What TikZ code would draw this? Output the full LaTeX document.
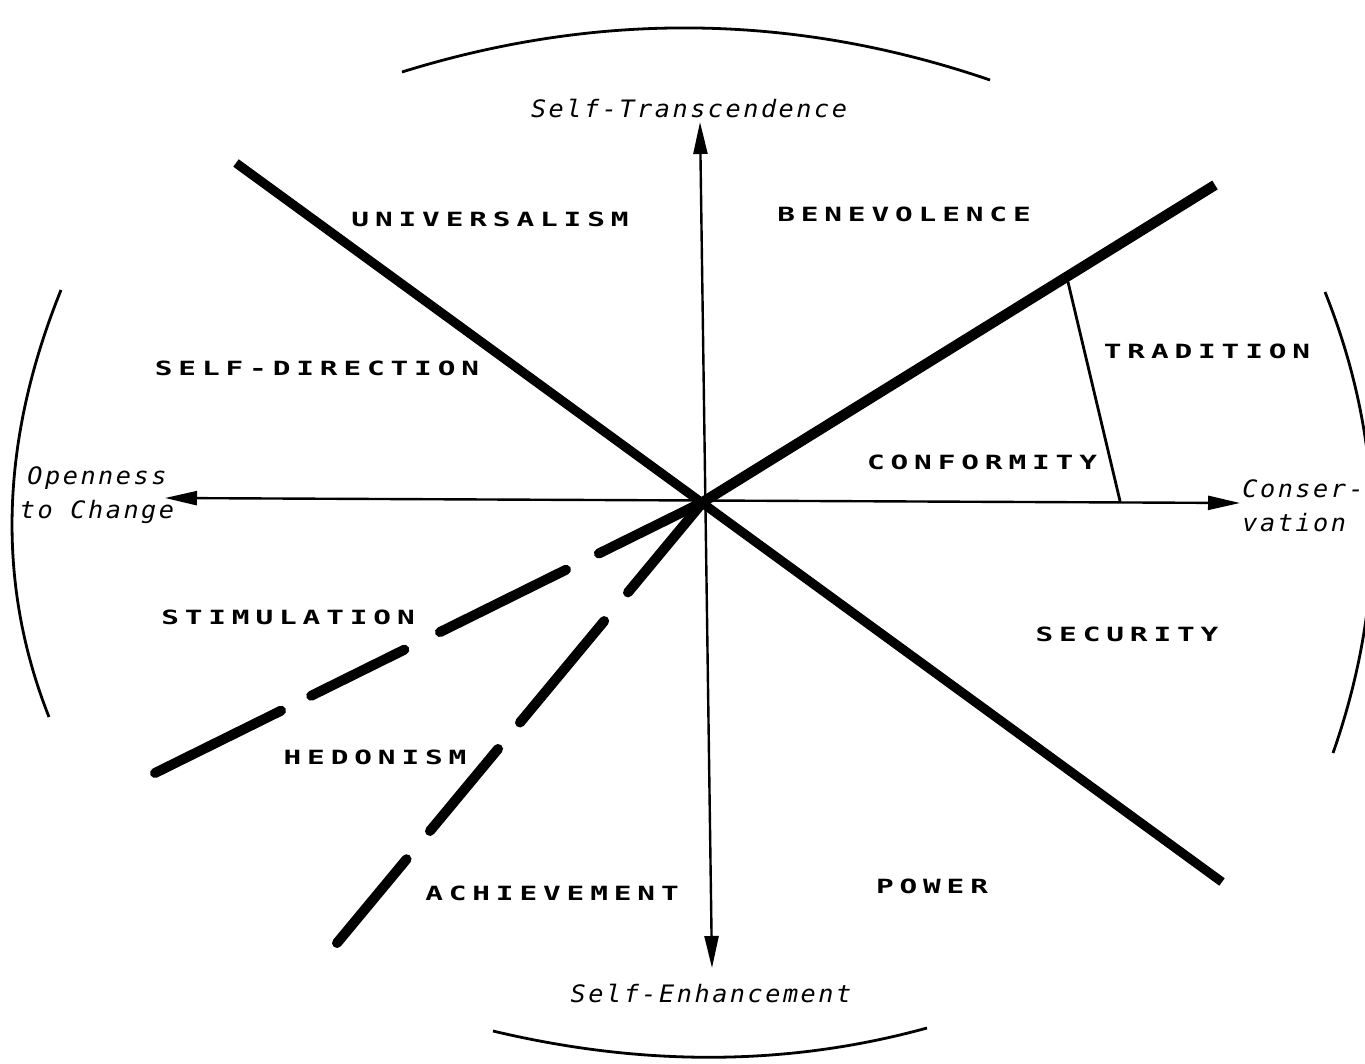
\documentclass[tikz,border=0pt]{standalone}
\usepackage{fontspec}
\usetikzlibrary{arrows.meta,calc,positioning}
\newfontfamily\valuefont[LetterSpace=20]{DejaVu Sans Mono}
\newfontfamily\dimfont[LetterSpace=10]{DejaVu Sans Mono}
\newcommand{\val}[1]{\scalebox{1.5}[1]{#1}}
\newcommand{\axlab}[1]{\scalebox{1.05}[1]{#1}}
\tikzset{
  value/.style={font=\fontsize{9.8}{10}\selectfont\valuefont\bfseries,inner sep=0pt},
  dimlab/.style={font=\fontsize{12}{17}\selectfont\dimfont\itshape,inner sep=0pt},
  axis/.style={line width=1.2pt,{Triangle[length=16pt,width=7pt]}-{Triangle[length=16pt,width=7pt]}},
  divider/.style={line width=4.6pt},
  dashdiv/.style={line width=5pt,line cap=round},
  bracket/.style={line width=1.4pt},
}

\begin{document}
\begin{tikzpicture}[x=0.5pt,y=-0.5pt]
  \useasboundingbox (0,0) rectangle (1365,1064);
  \clip (0,0) rectangle (1365,1064);
  \coordinate (c) at (703,502);
  % axis ends
  \coordinate (st) at (700,122);
  \coordinate (se) at (712,968);
  \coordinate (oc) at (165,498);
  \coordinate (cv) at (1240,503);
  % divider ends
  \coordinate (nw) at (236,163);
  \coordinate (sw) at (1222,882);
  \coordinate (ne) at (1215,185);
  \coordinate (hA) at (155,773);
  \coordinate (hB) at (337,943);
  \coordinate (trT) at (1068,282);
  \coordinate (trB) at (1120,501);

  % outer brackets
  \draw[bracket] (402,72) .. controls (598,11) and (794,13) .. (990,80);
  \draw[bracket] (493,1031) .. controls (644,1067) and (789,1066) .. (927,1028);
  \draw[bracket] (61,290) .. controls (0,441) and (-4,583) .. (49,717);
  \draw[bracket] (1325,292) .. controls (1385,442) and (1388,596) .. (1333,753);

  \draw[divider] (nw) -- (sw);
  \draw[divider,line width=5.2pt] (c) -- (ne);
  \foreach \a/\b in {0/0.19,0.25/0.48,0.545/0.715,0.77/1}
    \draw[dashdiv] ($(c)!\a!(hA)$) -- ($(c)!\b!(hA)$);
  \foreach \a/\b in {0/0.205,0.27/0.5,0.56/0.746,0.81/1}
    \draw[dashdiv] ($(c)!\a!(hB)$) -- ($(c)!\b!(hB)$);
  \draw[axis] (st) -- (se);
  \draw[axis] (oc) -- (cv);
  \draw[bracket] (trT) -- (trB);

  \node[dimlab] (trans) at (689,108) {\axlab{Self-Transcendence}};
  \node[dimlab] (enh) at (711,993) {\axlab{Self-Enhancement}};
  \node[dimlab,align=center] (open) at (97,495) {\axlab{Openness}\\\axlab{to Change}};
  \node[dimlab,align=left,anchor=west] (cons) at (1242,506) {\axlab{Conser-}\\\axlab{vation}};

  \node[value] (univ) at (490,219) {\val{UNIVERSALISM}};
  \node[value] (bene) at (904,214) {\val{BENEVOLENCE}};
  \node[value] (sdir) at (317,368) {\val{SELF-DIRECTION}};
  \node[value] (trad) at (1207,351) {\val{TRADITION}};
  \node[value] (conf) at (982,462) {\val{CONFORMITY}};
  \node[value] (stim) at (288,617) {\val{STIMULATION}};
  \node[value] (secu) at (1127,634) {\val{SECURITY}};
  \node[value] (hedo) at (375,757) {\val{HEDONISM}};
  \node[value] (achi) at (552,893) {\val{ACHIEVEMENT}};
  \node[value] (powr) at (932,886) {\val{POWER}};
\end{tikzpicture}
\end{document}
